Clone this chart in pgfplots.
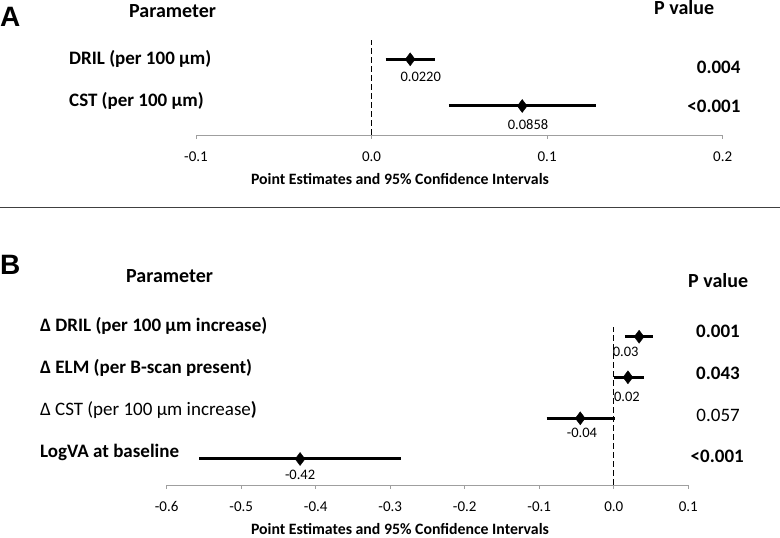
\documentclass[border=0pt]{standalone}
\usepackage{pgfplots}
\pgfplotsset{compat=1.18}
\usepackage{fontspec}
\setmainfont{Carlito}
\newfontfamily\arialfont{Liberation Sans}
\newcommand{\hdr}{\fontsize{20}{22}\selectfont\bfseries}
\newcommand{\row}{\fontsize{19}{21}\selectfont\bfseries}
\newcommand{\rowr}{\fontsize{19}{21}\selectfont}
\newcommand{\dl}{\fontsize{14.5}{16}\selectfont}
\newcommand{\tl}{\fontsize{15}{17}\selectfont}
\newcommand{\xl}{\fontsize{15.8}{18}\selectfont\bfseries}
\begin{document}
\begin{tikzpicture}
\useasboundingbox (0pt,0pt) rectangle (780pt,538pt);
\pgfplotsset{fp/.style={scale only axis, axis x line=bottom, axis y line=none,
  x axis line style={draw=gray!75, line width=0.8pt, -},
  tick align=outside, major tick length=4pt,
  xtick style={draw=gray!75, line width=0.8pt},
  ymin=0, clip=false,
  x tick label style={font=\tl, yshift=-9pt}}}
% ---------- Panel A ----------
\begin{axis}[fp, at={(196pt,403pt)}, anchor=south west, width=526.7pt, height=100pt,
  xmin=-0.1, xmax=0.2, ymax=100,
  xtick={-0.1,0,0.1,0.2}, xticklabels={-0.1,0.0,0.1,0.2}]
\addplot[black, line width=1.3pt, dash pattern=on 5.5pt off 3.5pt] coordinates {(0,0) (0,95)};
\addplot[black, line width=3pt] coordinates {(0.008,75.7) (0.0364,75.7)};
\addplot[black, line width=3pt] coordinates {(0.044,29) (0.128,29)};
\addplot[only marks, mark=diamond*, mark size=6.5pt, black] coordinates {(0.0220,75.7) (0.0858,29)};
\node[font=\dl] at (axis cs:0.028,58) {0.0220};
\node[font=\dl] at (axis cs:0.0891,10) {0.0858};
\end{axis}
% ---------- Panel B ----------
\begin{axis}[fp, at={(166.7pt,53pt)}, anchor=south west, width=521.6pt, height=160pt,
  xmin=-0.6, xmax=0.1, ymax=160,
  xtick={-0.6,-0.5,-0.4,-0.3,-0.2,-0.1,0,0.1},
  xticklabels={-0.6,-0.5,-0.4,-0.3,-0.2,-0.1,0.0,0.1}]
\addplot[black, line width=1.3pt, dash pattern=on 5.5pt off 3.5pt] coordinates {(0,0) (0,158)};
\addplot[black, line width=3pt] coordinates {(0.0148,148.3) (0.052,148.3)};
\addplot[black, line width=3pt] coordinates {(0,107.7) (0.040,107.7)};
\addplot[black, line width=3pt] coordinates {(-0.090,66.7) (0.001,66.7)};
\addplot[black, line width=3pt] coordinates {(-0.556,26) (-0.285,26)};
\addplot[only marks, mark=diamond*, mark size=6.5pt, black] coordinates {(0.034,148.3) (0.019,107.7) (-0.045,66.7) (-0.421,26)};
\node[font=\dl] at (axis cs:0.016,133.3) {0.03};
\node[font=\dl] at (axis cs:0.0177,88) {0.02};
\node[font=\dl] at (axis cs:-0.0427,52) {-0.04};
\node[font=\dl] at (axis cs:-0.421,10) {-0.42};
\end{axis}
% ---------- texts ----------
\node[anchor=west, inner sep=0, font=\arialfont\bfseries\fontsize{28}{30}\selectfont] at (0pt,521pt) {A};
\node[anchor=west, inner sep=0, font=\hdr] at (129pt,527pt) {Parameter};
\node[anchor=west, inner sep=0, font=\hdr] at (654pt,530pt) {P value};
\node[anchor=west, inner sep=0, font=\row] at (69pt,479pt) {DRIL (per 100 µm)};
\node[anchor=west, inner sep=0, font=\row] at (69pt,437pt) {CST (per 100 µm)};
\node[anchor=east, inner sep=0, font=\row] at (740.7pt,471pt) {0.004};
\node[anchor=east, inner sep=0, font=\row] at (740.7pt,432pt) {<0.001};
\node[anchor=base, inner sep=0, font=\xl] at (400pt,353.7pt) {Point Estimates and 95\% Confidence Intervals};
\draw[draw=black!75, line width=1.5pt] (0pt,330.3pt) -- (780pt,330.3pt);
\node[anchor=west, inner sep=0, font=\arialfont\bfseries\fontsize{28}{30}\selectfont] at (0pt,273pt) {B};
\node[anchor=west, inner sep=0, font=\hdr] at (126pt,262pt) {Parameter};
\node[anchor=west, inner sep=0, font=\hdr] at (688pt,257pt) {P value};
\node[anchor=west, inner sep=0, font=\row] at (40pt,212pt) {Δ DRIL (per 100 µm increase)};
\node[anchor=west, inner sep=0, font=\row] at (40pt,170.3pt) {Δ ELM (per B-scan present)};
\node[anchor=west, inner sep=0, font=\rowr] at (40pt,128pt) {Δ CST (per 100 µm increase\textbf{)}};
\node[anchor=west, inner sep=0, font=\row] at (40pt,86pt) {LogVA at baseline};
\node[anchor=east, inner sep=0, font=\row] at (740pt,206.3pt) {0.001};
\node[anchor=east, inner sep=0, font=\row] at (740pt,165pt) {0.043};
\node[anchor=east, inner sep=0, font=\rowr] at (740pt,123pt) {0.057};
\node[anchor=east, inner sep=0, font=\row] at (744pt,81.3pt) {<0.001};
\node[anchor=base, inner sep=0, font=\xl] at (400pt,3pt) {Point Estimates and 95\% Confidence Intervals};
\end{tikzpicture}
\end{document}
